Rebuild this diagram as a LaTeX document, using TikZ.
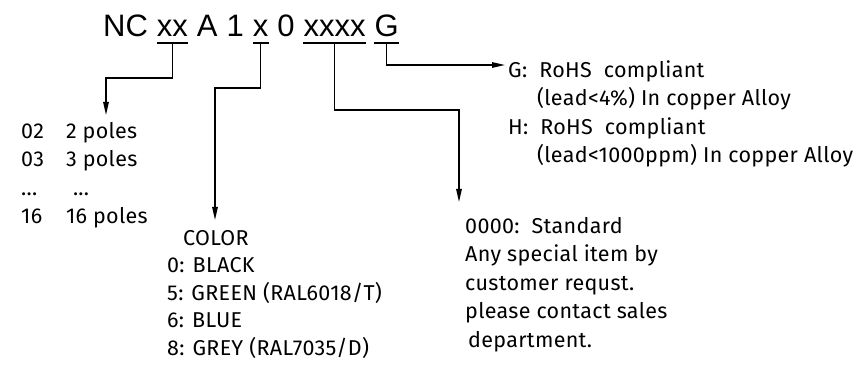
\documentclass[tikz,border=0pt]{standalone}
\usepackage{fontspec}
\usetikzlibrary{arrows.meta,positioning,calc}
\newfontfamily\codefont{Liberation Sans}
\newfontfamily\isofont{Fira Sans}[LetterSpace=1.5]

\begin{document}
\begin{tikzpicture}[x=1pt,y=1pt,
  code/.style={inner sep=0pt,font=\codefont\fontsize{31}{31}\selectfont},
  desc/.style={inner sep=0pt,align=left,anchor=base west,font=\isofont\fontsize{21.5}{28.5}\selectfont},
  uline/.style={line width=1.4pt},
  arr/.style={line width=1.4pt,-{Triangle[length=13pt,width=5.5pt]}},
]
\useasboundingbox (0,0) rectangle (865,-366);
% part number
\node[code,anchor=base west] (nc) at (103,-37) {NC};
\node[code,base right=8.6pt of nc] (xx) {xx};
\node[code,base right=8.6pt of xx] (a) {A};
\node[code,base right=8.6pt of a] (one) {1};
\node[code,base right=8.6pt of one] (col) {x};
\node[code,base right=8.6pt of col] (zero) {0};
\node[code,base right=8.6pt of zero] (spec) {xxxx};
\node[code,base right=8.6pt of spec] (g) {G};
% underlines
\foreach \p in {xx,col,spec,g}{
  \draw[uline] ([yshift=-6pt]\p.base west) -- ([yshift=-6pt]\p.base east);
  \coordinate (u\p) at ([yshift=-6pt]\p.base);
}
% descriptions (placed by the baseline of the last line)
\node[desc] (poles) at (21,-224) {\begin{tabular}[b]{@{}l@{\hspace{22pt}}l@{}}
  02 & 2 poles\\ 03 & 3 poles\\ ... & \hspace*{7pt}...\\ 16 & 16 poles\end{tabular}};
\node[desc,font=\isofont\fontsize{21.5}{27.5}\selectfont] (color) at (167,-355) {\hspace*{16pt}COLOR\\ 0: BLACK\\ 5: GREEN (RAL6018/T)\\ 6: BLUE\\ 8: GREY (RAL7035/D)};
\node[desc] (std) at (465,-347) {0000:\ \ Standard\\ Any special item by\\ customer requst.\\ please contact sales\\ \hspace*{3pt}department.};
\node[desc] (rohs) at (508,-163) {G:\ \ RoHS\ \ compliant\\ \hspace*{29pt}(lead<4\%) In copper Alloy\\ H:\ \ RoHS\ \ compliant\\ \hspace*{29pt}(lead<1000ppm) In copper Alloy};
% arrow tips
\coordinate (tpoles) at (106,-115);
\coordinate (tcolor) at (215,-220);
\coordinate (tstd) at (459,-202);
\coordinate (trohs) at (505,-65);
% connectors
\draw[arr] (uxx) -- ++(0,-35) -| (tpoles);
\draw[arr] (ucol) -- ++(0,-45) -| (tcolor);
\draw[arr] (uspec) -- ++(0,-67) -| (tstd);
\draw[arr] (ug) |- (trohs);
\end{tikzpicture}
\end{document}
